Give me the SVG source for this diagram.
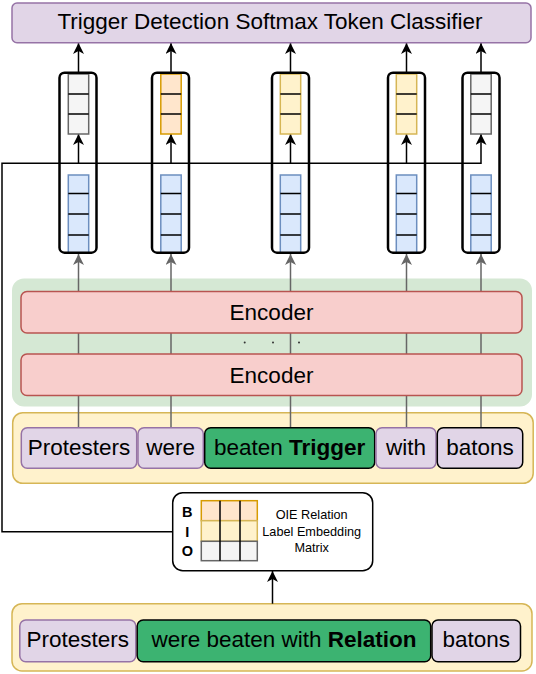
<svg xmlns="http://www.w3.org/2000/svg" width="536" height="674" viewBox="0 0 536 674">
<defs>
<style>
text{font-family:"Liberation Sans",Arial,Helvetica,sans-serif;fill:#000}
.big{font-size:22.5px;text-anchor:middle}
.small{font-size:12.7px;text-anchor:middle}
.bio{font-size:14.5px;font-weight:bold;text-anchor:middle}
.purple{fill:#e1d5e7;stroke:#9673a6;stroke-width:1.5}
.purpleK{fill:#e1d5e7;stroke:#000;stroke-width:1.5}
.green{fill:#3cb371;stroke:#000;stroke-width:1.5}
.enc{fill:#f8cecc;stroke:#b85450;stroke-width:1.5}
.ypanel{fill:#fff2cc;stroke:#d6b656;stroke-width:1.5}
.outer{fill:none;stroke:#000;stroke-width:2.5}
.blue{fill:#dae8fc;stroke:#6c8ebf;stroke-width:1.5}
.gray{fill:#f5f5f5;stroke:#666;stroke-width:1.5}
.orange{fill:#ffe6cc;stroke:#d79b00;stroke-width:1.5}
.yellow{fill:#fff2cc;stroke:#d6b656;stroke-width:1.5}
.div{stroke:#000;stroke-width:1.5}
.blk{fill:none;stroke:#000;stroke-width:1.5;marker-end:url(#ah)}
.gry{fill:none;stroke:#666;stroke-width:1.5;marker-end:url(#ahg)}
</style>
<marker id="ah" viewBox="0 0 11 11" refX="11" refY="5.5" markerWidth="11" markerHeight="11" markerUnits="userSpaceOnUse" orient="auto">
<path d="M0,0 L11,5.5 L0,11 L3,5.5 Z" fill="#000"/>
</marker>
<marker id="ahg" viewBox="0 0 11 11" refX="11" refY="5.5" markerWidth="11" markerHeight="11" markerUnits="userSpaceOnUse" orient="auto">
<path d="M0,0 L11,5.5 L0,11 L3,5.5 Z" fill="#666"/>
</marker>
</defs>

<!-- panels -->
<g id="encoder-stack-panel">
<rect x="12" y="278.5" width="520" height="128" rx="12" fill="#d5e8d4"/>
</g>
<g id="trigger-sentence-panel">
<rect class="ypanel" x="12.7" y="412.7" width="520.5" height="70.6" rx="10"/>
</g>
<g id="relation-sentence-panel">
<rect class="ypanel" x="12" y="603.7" width="520" height="67.3" rx="10"/>
</g>

<!-- connectors -->
<g id="connectors">
<path class="gry" d="M78.5,428 V254"/>
<path class="gry" d="M171,428 V254"/>
<path class="gry" d="M290.5,428 V254"/>
<path class="gry" d="M406.5,428 V254"/>
<path class="gry" d="M481,428 V254"/>
<path class="blk" d="M78.5,72.7 V43"/>
<path class="blk" d="M171,72.7 V43"/>
<path class="blk" d="M290.5,72.7 V43"/>
<path class="blk" d="M406.5,72.7 V43"/>
<path class="blk" d="M481,72.7 V43"/>
<path class="blk" d="M172.7,531.7 H2 V163.3 H481 V134"/>
<path class="blk" d="M78.5,163.3 V134"/>
<path class="blk" d="M171,163.3 V134"/>
<path class="blk" d="M290.5,163.3 V134"/>
<path class="blk" d="M406.5,163.3 V134"/>
<path class="blk" d="M272.5,603.7 V571"/>
</g>

<!-- title -->
<g id="classifier">
<rect x="12" y="3" width="519" height="39.7" rx="5" fill="#e1d5e7" stroke="#9673a6" stroke-width="1.5"/>
<text class="big" x="270" y="29">Trigger Detection Softmax Token Classifier</text>
</g>

<!-- encoders -->
<g id="encoder-top">
<rect class="enc" x="21" y="291.5" width="501" height="41.5" rx="6"/>
<text class="big" x="271.5" y="320.2">Encoder</text>
</g>
<g id="layer-dots">
<circle cx="244.7" cy="342.5" r="1" fill="#333"/>
<circle cx="273" cy="342.5" r="1" fill="#333"/>
<circle cx="299" cy="342.5" r="1" fill="#333"/>
</g>
<g id="encoder-bottom">
<rect class="enc" x="21" y="354" width="501" height="41.6" rx="6"/>
<text class="big" x="271.5" y="382.6">Encoder</text>
</g>

<!-- trigger sentence tokens -->
<g id="tok-protesters">
<rect class="purple" x="21.3" y="427.7" width="115.4" height="40.6" rx="6"/>
<text class="big" x="79" y="455">Protesters</text>
</g>
<g id="tok-were">
<rect class="purple" x="138" y="427.7" width="65.3" height="40.6" rx="6"/>
<text class="big" x="170.7" y="455">were</text>
</g>
<g id="tok-beaten-trigger">
<rect class="green" x="204.7" y="427.7" width="170" height="40.6" rx="6"/>
<text class="big" x="289.7" y="455">beaten <tspan font-weight="bold">Trigger</tspan></text>
</g>
<g id="tok-with">
<rect class="purple" x="376" y="427.7" width="60" height="40.6" rx="6"/>
<text class="big" x="406" y="455">with</text>
</g>
<g id="tok-batons">
<rect class="purpleK" x="437.3" y="427.7" width="85.4" height="40.6" rx="6"/>
<text class="big" x="480" y="455">batons</text>
</g>

<!-- relation sentence tokens -->
<g id="rel-protesters">
<rect class="purple" x="19.8" y="620" width="116" height="41.7" rx="6"/>
<text class="big" x="77.8" y="646.5">Protesters</text>
</g>
<g id="rel-were-beaten-with">
<rect class="green" x="137.2" y="620" width="293.5" height="41.7" rx="6"/>
<text class="big" x="284" y="646.5">were beaten with <tspan font-weight="bold">Relation</tspan></text>
</g>
<g id="rel-batons">
<rect class="purpleK" x="432" y="620" width="88.5" height="41.7" rx="6"/>
<text class="big" x="476.3" y="646.5">batons</text>
</g>

<!-- columns -->
<g id="col-1">
<rect class="gray" x="68.3" y="74" width="20.4" height="60"/>
<path class="div" d="M68.3,94 H88.7 M68.3,114 H88.7"/>
<rect class="blue" x="68.3" y="175" width="20.4" height="78"/>
<path class="div" d="M68.3,193.5 H88.7 M68.3,214 H88.7 M68.3,235 H88.7"/>
<rect class="outer" x="59.5" y="72.7" width="37" height="180" rx="5"/>
</g>
<g id="col-2">
<rect class="orange" x="160.8" y="74" width="20.4" height="60"/>
<path class="div" d="M160.8,94 H181.2 M160.8,114 H181.2"/>
<rect class="blue" x="160.8" y="175" width="20.4" height="78"/>
<path class="div" d="M160.8,193.5 H181.2 M160.8,214 H181.2 M160.8,235 H181.2"/>
<rect class="outer" x="152" y="72.7" width="37" height="180" rx="5"/>
</g>
<g id="col-3">
<rect class="yellow" x="280.3" y="74" width="20.4" height="60"/>
<path class="div" d="M280.3,94 H300.7 M280.3,114 H300.7"/>
<rect class="blue" x="280.3" y="175" width="20.4" height="78"/>
<path class="div" d="M280.3,193.5 H300.7 M280.3,214 H300.7 M280.3,235 H300.7"/>
<rect class="outer" x="272" y="72.7" width="37" height="180" rx="5"/>
</g>
<g id="col-4">
<rect class="yellow" x="396.3" y="74" width="20.4" height="60"/>
<path class="div" d="M396.3,94 H416.7 M396.3,114 H416.7"/>
<rect class="blue" x="396.3" y="175" width="20.4" height="78"/>
<path class="div" d="M396.3,193.5 H416.7 M396.3,214 H416.7 M396.3,235 H416.7"/>
<rect class="outer" x="388" y="72.7" width="37" height="180" rx="5"/>
</g>
<g id="col-5">
<rect class="gray" x="470.8" y="74" width="20.4" height="60"/>
<path class="div" d="M470.8,94 H491.2 M470.8,114 H491.2"/>
<rect class="blue" x="470.8" y="175" width="20.4" height="78"/>
<path class="div" d="M470.8,193.5 H491.2 M470.8,214 H491.2 M470.8,235 H491.2"/>
<rect class="outer" x="462.5" y="72.7" width="37" height="180" rx="5"/>
</g>

<!-- BIO matrix -->
<g id="bio-matrix">
<rect x="172.7" y="492.7" width="200" height="78" rx="10" fill="#fff" stroke="#000" stroke-width="1.5"/>
<rect class="orange" x="201.3" y="500.7" width="56" height="20"/>
<rect class="yellow" x="201.3" y="520.7" width="56" height="20.6"/>
<rect class="gray" x="201.3" y="541.3" width="56" height="19.4"/>
<path class="div" d="M220,500.7 V560.7 M240,500.7 V560.7"/>
<text class="bio" x="187.3" y="516.7">B</text>
<text class="bio" x="187.3" y="536.7">I</text>
<text class="bio" x="187.3" y="555.5">O</text>
<text class="small" x="311.7" y="519.3">OIE Relation</text>
<text class="small" x="311.7" y="536">Label Embedding</text>
<text class="small" x="311.7" y="551.7">Matrix</text>
</g>
</svg>
